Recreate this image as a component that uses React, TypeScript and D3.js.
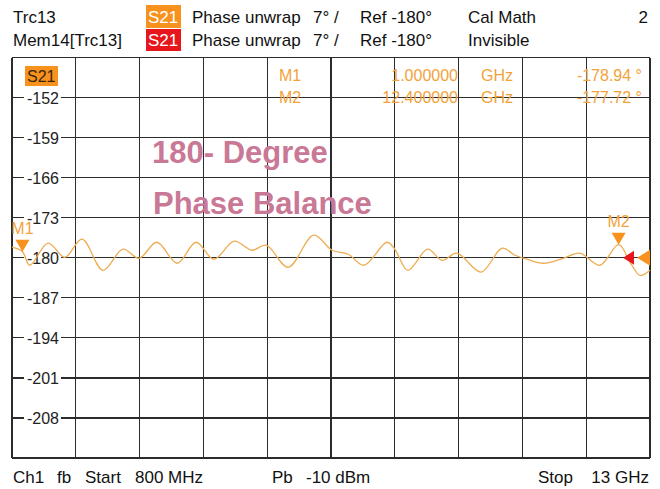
import React from "react";
import * as d3 from "d3";

const W = 660;
const H = 489;

// Trace: S21 phase (deg) vs frequency (GHz)
const freqs = [0.8, 1.0, 1.14, 1.49, 1.81, 2.14, 2.54, 2.92, 3.23, 3.57, 3.96, 4.32, 4.66, 5.05, 5.39, 5.66, 6.08, 6.57, 6.92, 7.23, 7.53, 7.97, 8.12, 8.37, 8.75, 9.02, 9.31, 9.77, 10.17, 10.42, 10.65, 10.96, 11.34, 11.66, 12.04, 12.4, 12.62, 12.81, 13.0];
const phases = [-178.16, -178.94, -181.31, -177.46, -179.91, -176.76, -182.19, -178.51, -180.09, -177.29, -180.96, -177.29, -180.26, -177.11, -178.69, -177.81, -181.66, -176.06, -178.69, -179.39, -181.31, -177.29, -178.51, -182.19, -178.51, -180.44, -179.21, -182.5, -178.34, -179.56, -180.26, -180.96, -180.09, -179.21, -181.31, -177.72, -180.79, -183.1, -182.19];

const yTicks = [-152, -159, -166, -173, -180, -187, -194, -201, -208];
const yGrid = [-145, -152, -159, -166, -173, -180, -187, -194, -201, -208, -215];
const xGrid = d3.range(11).map((i) => 0.8 + i * 1.22);

const markerNames = ["M1", "M2"];
const markerFreqs = [1.0, 12.4];
const markerVals = [-178.94, -177.72];
const markerFreqLabels = ["1.000000", "12.400000"];
const markerValLabels = ["-178.94 °", "-177.72 °"];

const FONT = "'Liberation Sans', Arial, sans-serif";
const ORANGE = "#f7921e";
const RED = "#e6161c";
const MK = "#f2a23a";
const TRACE = "#eeac52";
const GRID = "#2b2b2b";

export default function App() {
  const x = d3.scaleLinear().domain([0.8, 13]).range([12, 650]);
  const y = d3.scaleLinear().domain([-215, -145]).range([458, 57.5]);
  const pts: [number, number][] = freqs.map((f, i) => [f, phases[i]]);
  const line = d3
    .line<[number, number]>()
    .x((d) => x(d[0]))
    .y((d) => y(d[1]))
    .curve(d3.curveCatmullRom.alpha(0.5));

  const refY = y(-180);

  return (
    <svg width={W} height={H} style={{ position: "absolute", left: 0, top: 0, background: "#fff" }} fontFamily={FONT}>
      <rect x={0} y={0} width={W} height={H} fill="#fff" />
      {/* Header */}
      <g fontSize={17} fill="#111">
        <text x={13} y={23}>Trc13</text>
        <rect x={146} y={5} width={35} height={23} fill={ORANGE} />
        <text x={148} y={23} fill="#fff">S21</text>
        <text x={192} y={23}>Phase unwrap</text>
        <text x={313} y={23}>7° /</text>
        <text x={360} y={23}>Ref -180°</text>
        <text x={468} y={23}>Cal Math</text>
        <text x={648} y={23} textAnchor="end">2</text>

        <text x={13} y={46}>Mem14[Trc13]</text>
        <rect x={146} y={29} width={35} height={22} fill={RED} />
        <text x={148} y={46} fill="#fff">S21</text>
        <text x={192} y={46}>Phase unwrap</text>
        <text x={313} y={46}>7° /</text>
        <text x={360} y={46}>Ref -180°</text>
        <text x={468} y={46}>Invisible</text>
      </g>

      {/* Grid */}
      <g stroke={GRID} strokeWidth={1.2} shapeRendering="crispEdges">
        {yGrid.map((v) => (
          <line key={"h" + v} x1={12} x2={650} y1={y(v)} y2={y(v)} />
        ))}
        {xGrid.map((f, i) => (
          <line key={"v" + i} x1={x(f)} x2={x(f)} y1={57.5} y2={458} />
        ))}
      </g>

      {/* Y tick labels */}
      <g fontSize={16} fill="#222">
        {yTicks.map((v) => (
          <g key={"t" + v}>
            <rect x={24} y={y(v) - 9} width={37} height={18} fill="#fff" />
            <text x={43} y={y(v) + 6} textAnchor="middle">{String(v)}</text>
          </g>
        ))}
      </g>

      {/* S21 label in plot */}
      <rect x={25} y={66} width={33} height={20} fill={ORANGE} />
      <text x={27} y={82} fontSize={16} fill="#3a2508">S21</text>

      {/* Marker table */}
      <g fontSize={16} fill={MK}>
        {markerNames.map((m, i) => (
          <g key={m}>
            <text x={279} y={81 + i * 22}>{m}</text>
            <text x={458} y={81 + i * 22} textAnchor="end">{markerFreqLabels[i]}</text>
            <text x={481} y={81 + i * 22}>GHz</text>
            <text x={642} y={81 + i * 22} textAnchor="end">{markerValLabels[i]}</text>
          </g>
        ))}
      </g>

      {/* Annotation */}
      <g fontSize={31} fontWeight="bold" fill="#c97896">
        <text x={152} y={163}>180- Degree</text>
        <text x={153} y={214}>Phase Balance</text>
      </g>

      {/* Trace */}
      <path d={line(pts) || ""} fill="none" stroke={TRACE} strokeWidth={1.3} />

      {/* Markers */}
      {markerNames.map((m, i) => {
        const mx = x(markerFreqs[i]);
        const my = y(markerVals[i]);
        return (
          <g key={"mk" + m}>
            <path d={`M${mx - 7},${my - 12} L${mx + 7},${my - 12} L${mx},${my} Z`} fill={ORANGE} />
            <text x={mx} y={my - 18} textAnchor="middle" fontSize={16} fill={MK}>{m}</text>
          </g>
        );
      })}

      {/* Reference level arrows */}
      <path d={`M${623},${refY} L${634},${refY - 7} L${634},${refY + 7} Z`} fill={RED} />
      <path d={`M${637},${refY} L${650},${refY - 8} L${650},${refY + 8} Z`} fill={ORANGE} />

      {/* Footer */}
      <g fontSize={17} fill="#111">
        <text x={13} y={483}>Ch1</text>
        <text x={57} y={483}>fb</text>
        <text x={85} y={483}>Start</text>
        <text x={135} y={483}>800 MHz</text>
        <text x={272} y={483}>Pb</text>
        <text x={306} y={483}>-10 dBm</text>
        <text x={538} y={483}>Stop</text>
        <text x={649} y={483} textAnchor="end">13 GHz</text>
      </g>
    </svg>
  );
}
